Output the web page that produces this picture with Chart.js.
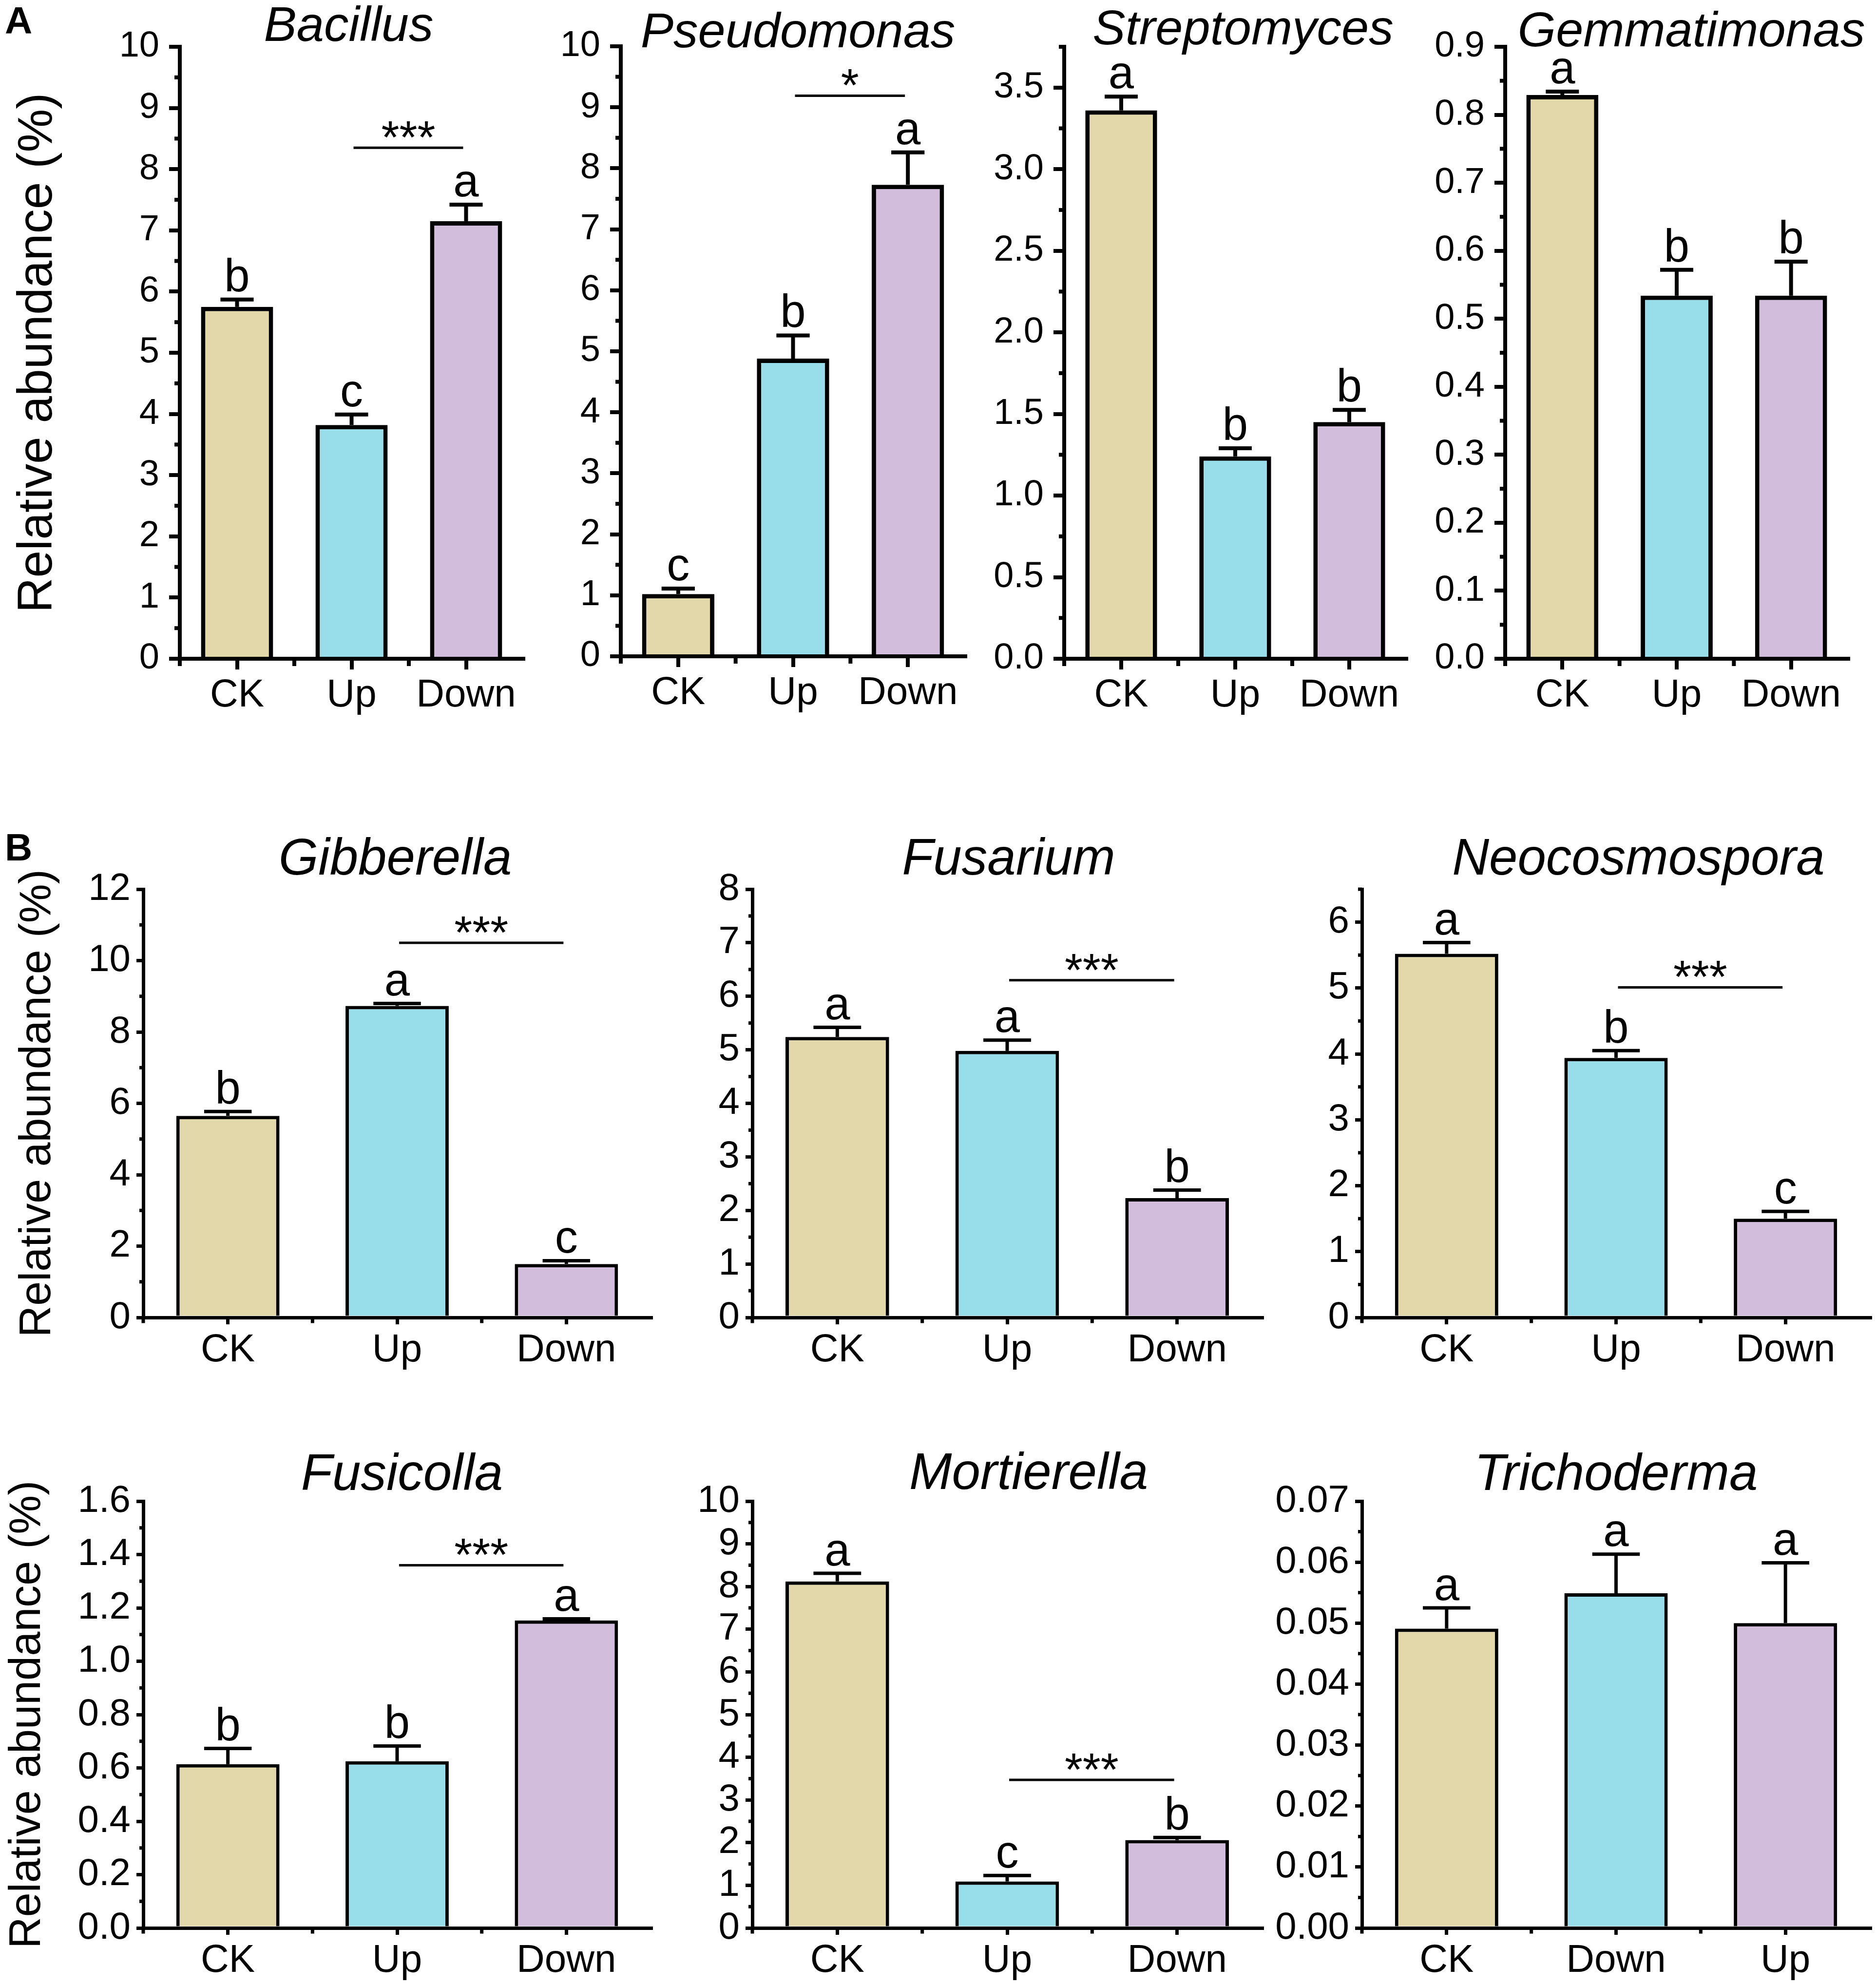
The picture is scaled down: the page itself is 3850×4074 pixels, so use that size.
<!DOCTYPE html>
<html>
<head>
<meta charset="utf-8">
<script src="https://cdn.jsdelivr.net/npm/chart.js@4.4.1/dist/chart.umd.min.js"></script>
<style>
html,body{margin:0;padding:0;background:#fff;}
#page{position:relative;width:3850px;height:4074px;overflow:hidden;background:#fff;}
.box{position:absolute;}
.panel{position:absolute;font-family:'Liberation Sans',Arial,sans-serif;font-weight:bold;font-size:78px;line-height:1;color:#000;}
</style>
</head>
<body>
<div id="page">
  <div class="panel" style="left:10px;top:3px">A</div>
  <div class="panel" style="left:10px;top:1700px">B</div>
</div>
<script>
// ---------------- DATA ----------------
const categories = ['CK', 'Up', 'Down'];
const categoriesTricho = ['CK', 'Down', 'Up'];
const barColors = ['#E3D8A9', '#98DDEA', '#D3BDDC'];

const bacillusMean = [5.75, 3.82, 7.15];
const bacillusErr = [0.12, 0.17, 0.27];
const bacillusLetters = ['b', 'c', 'a'];
const bacillusSig = '***';
const bacillusSigY = 8.35;

const pseudomonasMean = [1.02, 4.88, 7.73];
const pseudomonasErr = [0.09, 0.38, 0.53];
const pseudomonasLetters = ['c', 'b', 'a'];
const pseudomonasSig = '*';
const pseudomonasSigY = 9.19;

const streptomycesMean = [3.36, 1.24, 1.45];
const streptomycesErr = [0.085, 0.05, 0.075];
const streptomycesLetters = ['a', 'b', 'b'];

const gemmatimonasMean = [0.829, 0.534, 0.534];
const gemmatimonasErr = [0.005, 0.038, 0.05];
const gemmatimonasLetters = ['a', 'b', 'b'];

const gibberellaMean = [5.65, 8.73, 1.5];
const gibberellaErr = [0.12, 0.07, 0.09];
const gibberellaLetters = ['b', 'a', 'c'];
const gibberellaSig = '***';
const gibberellaSigY = 10.5;

const fusariumMean = [5.24, 4.98, 2.23];
const fusariumErr = [0.18, 0.2, 0.15];
const fusariumLetters = ['a', 'a', 'b'];
const fusariumSig = '***';
const fusariumSigY = 6.3;

const neocosmosporaMean = [5.52, 3.94, 1.5];
const neocosmosporaErr = [0.17, 0.11, 0.11];
const neocosmosporaLetters = ['a', 'b', 'c'];
const neocosmosporaSig = '***';
const neocosmosporaSigY = 5.01;

const fusicollaMean = [0.614, 0.625, 1.153];
const fusicollaErr = [0.059, 0.057, 0.006];
const fusicollaLetters = ['b', 'b', 'a'];
const fusicollaSig = '***';
const fusicollaSigY = 1.36;

const mortierellaMean = [8.12, 1.09, 2.06];
const mortierellaErr = [0.19, 0.14, 0.06];
const mortierellaLetters = ['a', 'c', 'b'];
const mortierellaSig = '***';
const mortierellaSigY = 3.47;

const trichodermaMean = [0.0491, 0.0549, 0.0500];
const trichodermaErr = [0.0034, 0.0064, 0.0099];
const trichodermaLetters = ['a', 'a', 'a'];

const yAxisLabel = 'Relative abundance (%)';

// ---------------- STYLE / LAYOUT ----------------
const FONT = "'Liberation Sans', Arial, sans-serif";
const STYLE = {
  A: {tick: 74, xlab: 80, title: 101, ylab: 100, letter: 94, star: 95, axisW: 8, barBorder: 9, tl: 22, minorL: 11, tickPad: 20, xPad: 6, barPct: 0.63, errW: 8, sigW: 5},
  B: {tick: 78, xlab: 80, title: 105, ylab: 90, letter: 94, star: 95, axisW: 7, barBorder: 7, tl: 14, minorL: 8, tickPad: 12, xPad: 6, barPct: 0.61, errW: 7, sigW: 5}
};

const specs = [
  {panel: 'A', title: 'Bacillus', cats: categories, mean: bacillusMean, err: bacillusErr, letters: bacillusLetters, sig: bacillusSig, sigY: bacillusSigY,
   yMax: 10, major: 1, minor: 0.5, dec: 0, L: 369, R: 1074, T: 96, B: 1352, titleBase: 84, titleDx: -6, yLabel: true, yLabelPad: 18},
  {panel: 'A', title: 'Pseudomonas', cats: categories, mean: pseudomonasMean, err: pseudomonasErr, letters: pseudomonasLetters, sig: pseudomonasSig, sigY: pseudomonasSigY,
   yMax: 10, major: 1, minor: 0.5, dec: 0, L: 1274, R: 1981, T: 95, B: 1347, titleBase: 97, titleDx: 10},
  {panel: 'A', title: 'Streptomyces', cats: categories, mean: streptomycesMean, err: streptomycesErr, letters: streptomycesLetters,
   yMax: 3.75, major: 0.5, minor: 0.25, dec: 1, L: 2184, R: 2886, T: 96, B: 1352, titleBase: 91, titleDx: 16},
  {panel: 'A', title: 'Gemmatimonas', cats: categories, mean: gemmatimonasMean, err: gemmatimonasErr, letters: gemmatimonasLetters,
   yMax: 0.9, major: 0.1, minor: 0.05, dec: 1, L: 3089, R: 3793, T: 96, B: 1352, titleBase: 95, titleDx: 30},
  {panel: 'B', title: 'Gibberella', cats: categories, mean: gibberellaMean, err: gibberellaErr, letters: gibberellaLetters, sig: gibberellaSig, sigY: gibberellaSigY,
   yMax: 12, major: 2, minor: 1, dec: 0, L: 294, R: 1336, T: 1825, B: 2704, titleBase: 1795, titleDx: -4, yLabel: true, yLabelPad: 24},
  {panel: 'B', title: 'Fusarium', cats: categories, mean: fusariumMean, err: fusariumErr, letters: fusariumLetters, sig: fusariumSig, sigY: fusariumSigY,
   yMax: 8, major: 1, minor: 0.5, dec: 0, L: 1544, R: 2590, T: 1825, B: 2704, titleBase: 1795, titleDx: 3},
  {panel: 'B', title: 'Neocosmospora', cats: categories, mean: neocosmosporaMean, err: neocosmosporaErr, letters: neocosmosporaLetters, sig: neocosmosporaSig, sigY: neocosmosporaSigY,
   yMax: 6.5, major: 1, minor: 0.5, dec: 0, L: 2795, R: 3838, T: 1825, B: 2704, titleBase: 1795, titleDx: 46},
  {panel: 'B', title: 'Fusicolla', cats: categories, mean: fusicollaMean, err: fusicollaErr, letters: fusicollaLetters, sig: fusicollaSig, sigY: fusicollaSigY,
   yMax: 1.6, major: 0.2, minor: 0.1, dec: 1, L: 294, R: 1336, T: 3081, B: 3957, titleBase: 3058, titleDx: 10, yLabel: true, yLabelPad: 3},
  {panel: 'B', title: 'Mortierella', cats: categories, mean: mortierellaMean, err: mortierellaErr, letters: mortierellaLetters, sig: mortierellaSig, sigY: mortierellaSigY,
   yMax: 10, major: 1, minor: 0.5, dec: 0, L: 1544, R: 2590, T: 3081, B: 3957, titleBase: 3056, titleDx: 44},
  {panel: 'B', title: 'Trichoderma', cats: categoriesTricho, mean: trichodermaMean, err: trichodermaErr, letters: trichodermaLetters,
   yMax: 0.07, major: 0.01, minor: 0.005, dec: 2, L: 2795, R: 3838, T: 3081, B: 3957, titleBase: 3058, titleDx: 0}
];

// ---------------- PLUGIN: title, minor ticks, error bars, letters, significance ----------------
const annotPlugin = {
  id: 'annot',
  afterDraw(chart, args, o) {
    const ctx = chart.ctx;
    const area = chart.chartArea;
    const xs = chart.scales.x, ys = chart.scales.y;
    const ds = chart.data.datasets[0];
    const meta = chart.getDatasetMeta(0);
    const line = (x1, y1, x2, y2) => { ctx.beginPath(); ctx.moveTo(x1, y1); ctx.lineTo(x2, y2); ctx.stroke(); };
    ctx.save();
    ctx.strokeStyle = '#000';
    ctx.fillStyle = '#000';
    ctx.lineCap = 'butt';
    // title (italic genus name)
    ctx.font = `italic normal ${o.titleSize}px ${FONT}`;
    ctx.textAlign = 'center';
    ctx.textBaseline = 'alphabetic';
    ctx.fillText(o.title, (area.left + area.right) / 2 + o.titleDx, area.top - o.titleRise);
    // y minor ticks
    ctx.lineWidth = o.axisW;
    for (let k = 0; ; k++) {
      const v = k * o.minor;
      if (v > ys.max + 1e-9) break;
      const r = v / o.major;
      if (Math.abs(r - Math.round(r)) < 1e-6) continue;
      const y = ys.getPixelForValue(v);
      line(area.left - o.minorL, y, area.left, y);
    }
    // x minor ticks at category boundaries
    const n = ds.data.length;
    for (let i = 0; i < n; i++) {
      const x = i === 0 ? area.left : (xs.getPixelForValue(i - 1) + xs.getPixelForValue(i)) / 2;
      line(x, area.bottom, x, area.bottom + o.minorL + o.axisW / 2);
    }
    // error bars + letters
    meta.data.forEach((bar, i) => {
      const v = ds.data[i], e = ds.errors[i];
      const yb = ys.getPixelForValue(v);
      const yt = ys.getPixelForValue(v + e);
      const capW = bar.width * 0.46;
      ctx.lineWidth = o.errW;
      line(bar.x, yb, bar.x, yt);
      line(bar.x - capW / 2, yt, bar.x + capW / 2, yt);
      ctx.font = `normal ${o.letter}px ${FONT}`;
      ctx.fillText(ds.letters[i], bar.x, yt - o.errW / 2 - 13);
    });
    // significance bracket
    if (o.sig) {
      const y = ys.getPixelForValue(o.sigY);
      const x1 = xs.getPixelForValue(1) + 4, x2 = xs.getPixelForValue(2) - 6;
      ctx.lineWidth = o.sigW;
      line(x1, y, x2, y);
      ctx.font = `normal ${o.star}px ${FONT}`;
      ctx.fillText(o.sig, (x1 + x2) / 2, y + 11);
    }
    ctx.restore();
  }
};

// ---------------- BUILD ----------------
const page = document.getElementById('page');
specs.forEach((c) => {
  const s = STYLE[c.panel];
  const Ly = c.yLabel ? c.L : 230;
  const topSpace = 140;
  const Hx = s.tl + s.xPad + 1.2 * s.xlab + 24;
  const padR = 80;
  const div = document.createElement('div');
  div.className = 'box';
  div.style.left = (c.L - Ly) + 'px';
  div.style.top = (c.T - topSpace) + 'px';
  div.style.width = (Ly + (c.R - c.L) + padR) + 'px';
  div.style.height = (topSpace + (c.B - c.T) + Hx) + 'px';
  const canvas = document.createElement('canvas');
  div.appendChild(canvas);
  page.appendChild(div);

  new Chart(canvas, {
    type: 'bar',
    data: {
      labels: c.cats,
      datasets: [{
        data: c.mean,
        errors: c.err,
        letters: c.letters,
        backgroundColor: barColors,
        borderColor: '#000',
        borderWidth: s.barBorder,
        borderSkipped: 'start',
        barPercentage: s.barPct,
        categoryPercentage: 1
      }]
    },
    options: {
      responsive: true,
      maintainAspectRatio: false,
      animation: false,
      devicePixelRatio: 1,
      layout: {padding: {left: 0, top: topSpace, right: padR, bottom: 0}},
      plugins: {
        legend: {display: false},
        tooltip: {enabled: false},
        title: {display: false},
        annot: {
          title: c.title, titleSize: s.title, titleDx: c.titleDx, titleRise: c.T - c.titleBase,
          axisW: s.axisW, minorL: s.minorL, minor: c.minor, major: c.major,
          errW: s.errW, letter: s.letter, star: s.star, sigW: s.sigW,
          sig: c.sig || null, sigY: c.sigY
        }
      },
      scales: {
        x: {
          type: 'category',
          offset: true,
          grid: {display: true, offset: false, drawOnChartArea: false, drawTicks: true,
                 tickLength: s.tl, tickWidth: s.axisW, tickColor: '#000', color: '#000', lineWidth: s.axisW},
          border: {display: true, color: '#000', width: s.axisW},
          ticks: {color: '#000', font: {family: FONT, size: s.xlab}, padding: s.xPad, maxRotation: 0, autoSkip: false},
          afterFit: (sc) => { sc.height = Hx; }
        },
        y: {
          type: 'linear',
          min: 0,
          max: c.yMax,
          grid: {display: true, drawOnChartArea: false, drawTicks: true,
                 tickLength: s.tl, tickWidth: s.axisW, tickColor: '#000', color: '#000', lineWidth: s.axisW},
          border: {display: true, color: '#000', width: s.axisW},
          ticks: {stepSize: c.major, includeBounds: false, autoSkip: false, color: '#000',
                  font: {family: FONT, size: s.tick}, padding: s.tickPad,
                  callback: (v) => Number(v).toFixed(c.dec)},
          title: {display: !!c.yLabel, text: yAxisLabel, color: '#000',
                  font: {family: FONT, size: s.ylab}, padding: {top: c.yLabelPad || 0, bottom: 0}},
          afterFit: (sc) => { sc.width = Ly; }
        }
      }
    },
    plugins: [annotPlugin]
  });
});
</script>
</body>
</html>
